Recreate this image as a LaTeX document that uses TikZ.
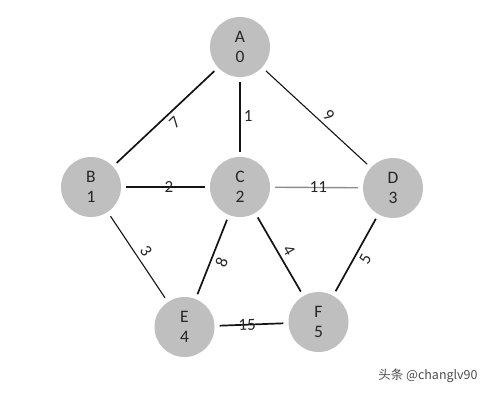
\documentclass[tikz,border=0pt]{standalone}
\usepackage{fontspec}
\setmainfont{Carlito}
\newfontfamily\cjkfont{Noto Sans CJK SC}
\definecolor{nodegray}{HTML}{BFBFBF}
\definecolor{textdark}{HTML}{262626}
\definecolor{linedark}{HTML}{141414}
\definecolor{linegray}{HTML}{8C8C8C}
\begin{document}
\begin{tikzpicture}[
    x=1pt, y=-1pt,
    vertex/.style={
        circle,
        fill=nodegray,
        minimum size=60pt,
        inner sep=0pt,
        align=center,
        font=\fontsize{17.5}{20}\selectfont,
        text=textdark
    },
    weight/.style={
        font=\fontsize{17}{18}\selectfont,
        text=textdark,
        inner sep=1pt
    },
    heavy/.style={
        draw=linedark,
        line width=1.7pt,
        shorten <=5pt,
        shorten >=5pt
    },
    light/.style={
        draw=linedark,
        line width=1.1pt,
        shorten <=5pt,
        shorten >=5pt
    },
    grey/.style={
        draw=linegray,
        line width=1.4pt,
        shorten <=5pt,
        shorten >=5pt
    },
    under/.style={below=3pt},
    over/.style={above=3pt},
    on line/.style={}
]
    \useasboundingbox (0,0) rectangle (491,394);
    \foreach \name/\val/\x/\y in {
        A/0/240/47,
        B/1/91/187,
        C/2/240/187,
        D/3/393/188,
        E/4/184.5/327,
        F/5/318.5/322%
    } {
        \node[vertex] (\name) at (\x, \y) {\name\\\val};
    }
    \foreach \u/\v/\w/\p/\side/\kind in {
        A/B/7/0.48/under/heavy,
        A/D/9/0.55/over/light,
        B/C/2/0.54/on line/heavy,
        C/D/11/0.52/on line/grey,
        B/E/3/0.5/over/light,
        C/E/8/0.52/under/heavy,
        C/F/4/0.52/over/heavy,
        D/F/5/0.49/under/heavy,
        E/F/15/0.44/on line/heavy%
    } {
        \draw[\kind] (\u) -- node[weight, sloped, \side, pos=\p] {\w} (\v);
    }
    \draw[heavy] (A) -- node[weight, right=2pt, pos=0.49] {1} (C);

    \node[text=black!70, font=\cjkfont\fontsize{12.5}{14}\selectfont] (wm) at (428,376) {头条 @changlv90};
\end{tikzpicture}
\end{document}
